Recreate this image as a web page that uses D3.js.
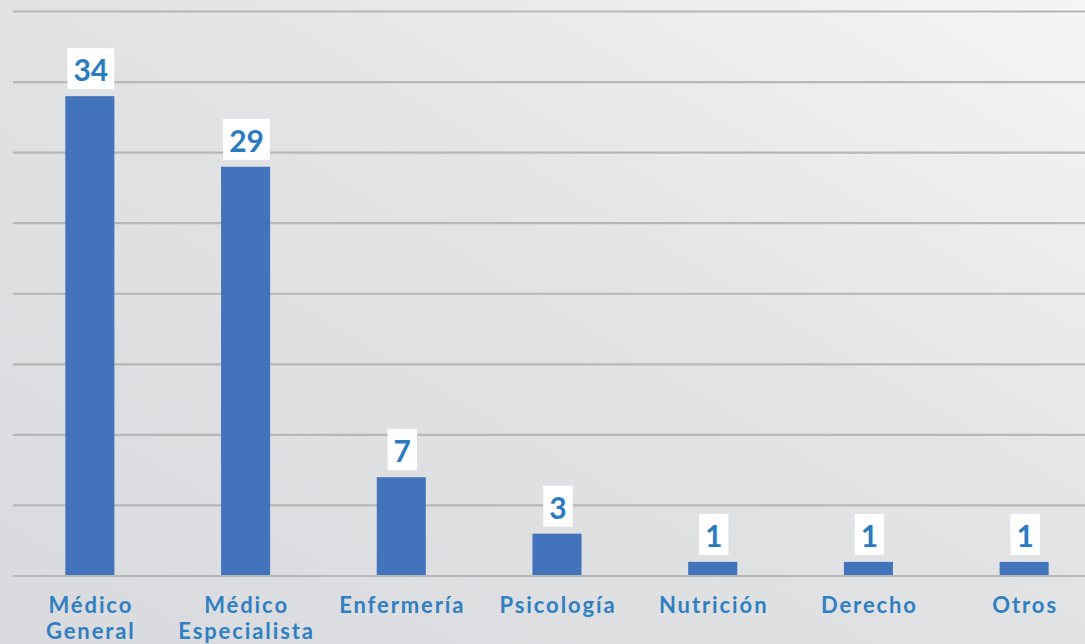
<!DOCTYPE html>
<html><head><meta charset="utf-8">
<script src="https://cdn.jsdelivr.net/npm/d3@7"></script>
<style>html,body{margin:0;padding:0;overflow:hidden;}svg{display:block;}</style>
</head><body>
<script>
const categories = [["Médico","General"],["Médico","Especialista"],["Enfermería"],["Psicología"],["Nutrición"],["Derecho"],["Otros"]];
const values = [34, 29, 7, 3, 1, 1, 1];
const gridTicks = [0,5,10,15,20,25,30,35,40];

const W = 1085, H = 644;
const svg = d3.select("body").append("svg").attr("width", W).attr("height", H);
const defs = svg.append("defs");
const grad = defs.append("linearGradient").attr("id","bg").attr("x1","0%").attr("y1","100%").attr("x2","100%").attr("y2","0%");
grad.append("stop").attr("offset","0%").attr("stop-color","#d9dadd");
grad.append("stop").attr("offset","55%").attr("stop-color","#e2e3e5");
grad.append("stop").attr("offset","100%").attr("stop-color","#f4f5f7");
svg.append("rect").attr("width",W).attr("height",H).attr("fill","url(#bg)");

const keys = categories.map(c => c.join(" "));
const x = d3.scaleBand().domain(keys).range([12, 1102]).paddingInner(0.685).paddingOuter(0.3425);
const y = d3.scaleLinear().domain([0, 40]).range([576, 11.5]);

svg.append("g").selectAll("line").data(gridTicks).join("line")
  .attr("x1", 13).attr("x2", W).attr("y1", d => y(d)).attr("y2", d => y(d))
  .attr("stroke", "#b6b7b9").attr("stroke-width", 2.2);

svg.append("g").selectAll("rect").data(values).join("rect")
  .attr("x", (d,i) => x(keys[i])).attr("width", x.bandwidth())
  .attr("y", d => y(d)).attr("height", d => y(0) - y(d) - 1)
  .attr("fill", "#4273bb");

const lab = svg.append("g").selectAll("g").data(values).join("g");
lab.each(function(d,i){
  const g = d3.select(this);
  const cx = x(keys[i]) + x.bandwidth()/2 + 1;
  const t = g.append("text").attr("x", cx).attr("y", y(d) - 15)
    .attr("text-anchor","middle")
    .attr("font-family","Lato, 'Open Sans', sans-serif").attr("font-weight","bold")
    .attr("font-size", 30).attr("fill","#2a7bbf").text(d);
  const bb = t.node().getBBox();
  g.insert("rect","text").attr("x", bb.x - 6).attr("width", bb.width + 12)
    .attr("y", y(d) - 48).attr("height", 41).attr("fill","#ffffff");
});

const xl = svg.append("g").selectAll("text").data(categories).join("text")
  .attr("text-anchor","middle")
  .attr("font-family","Lato, 'Open Sans', sans-serif").attr("font-weight","bold")
  .attr("font-size", 22).attr("letter-spacing", 1.9).attr("fill","#2f7fc2")
  .attr("transform", (d,i) => `translate(${x(keys[i]) + x.bandwidth()/2 + 1},613)`);
xl.each(function(d){
  d3.select(this).selectAll("tspan").data(d).join("tspan")
    .attr("x", 0).attr("dy", (s,j) => j === 0 ? 0 : 26).text(s => s);
});
</script>
</body></html>
